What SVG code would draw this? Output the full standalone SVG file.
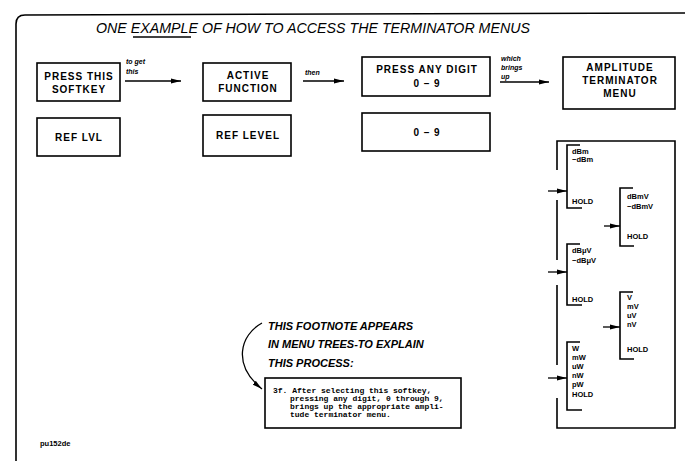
<svg xmlns="http://www.w3.org/2000/svg" width="685" height="461" viewBox="0 0 685 461">
<defs>
<marker id="ah" viewBox="0 0 10 6" refX="10" refY="3" markerWidth="10" markerHeight="6" markerUnits="userSpaceOnUse" orient="auto">
<path d="M0,0.5 L10,3 L0,5.5 Z" fill="#000"/>
</marker>
</defs>
<style>
.bx{fill:none;stroke:#000;stroke-width:1.6}
.ln{fill:none;stroke:#000;stroke-width:1.3}
.br{fill:none;stroke:#000;stroke-width:1.6}
.t{font-family:"Liberation Sans",Arial,sans-serif;font-weight:bold;font-size:10px;letter-spacing:1px;fill:#000}
.s{font-family:"Liberation Sans",Arial,sans-serif;font-weight:bold;font-size:7.5px;fill:#000}
.it{font-family:"Liberation Sans",Arial,sans-serif;font-style:italic;font-weight:bold;font-size:7px;fill:#000}
.ti{font-family:"Liberation Sans",Arial,sans-serif;font-style:italic;font-size:14px;fill:#000}
.fn{font-family:"Liberation Sans",Arial,sans-serif;font-style:italic;font-weight:bold;font-size:11px;fill:#000}
.m{font-family:"Liberation Mono","Courier New",monospace;font-weight:bold;font-size:8px;fill:#000}
</style>
<rect width="685" height="461" fill="#fff"/>
<g id="frame">
<path class="bx" d="M16,461 L16,24 Q16,15 25,15 L685,13"/>
<text class="ti" x="96" y="33" textLength="434" lengthAdjust="spacingAndGlyphs">ONE EXAMPLE OF HOW TO ACCESS THE TERMINATOR MENUS</text>
<line class="ln" x1="133" y1="37" x2="191" y2="37"/>
</g>
<g id="softkey">
<rect class="bx" x="37" y="63" width="83" height="38"/>
<text class="t" x="79" y="80" text-anchor="middle">PRESS THIS</text>
<text class="t" x="79" y="93" text-anchor="middle">SOFTKEY</text>
</g>
<g id="active">
<rect class="bx" x="203" y="63" width="88" height="38"/>
<text class="t" x="248" y="79" text-anchor="middle">ACTIVE</text>
<text class="t" x="248" y="92" text-anchor="middle">FUNCTION</text>
</g>
<g id="digit">
<rect class="bx" x="362" y="57" width="128" height="39"/>
<text class="t" x="427" y="73" text-anchor="middle">PRESS ANY DIGIT</text>
<text class="t" x="427" y="87" text-anchor="middle">0 – 9</text>
</g>
<g id="amplitude">
<rect class="bx" x="563" y="57" width="112" height="52"/>
<text class="t" x="620" y="71" text-anchor="middle">AMPLITUDE</text>
<text class="t" x="620" y="84" text-anchor="middle">TERMINATOR</text>
<text class="t" x="620" y="97" text-anchor="middle">MENU</text>
</g>
<g id="reflvl">
<rect class="bx" x="37" y="118" width="83" height="38"/>
<text class="t" x="79" y="141" text-anchor="middle">REF LVL</text>
</g>
<g id="reflevel">
<rect class="bx" x="203" y="115" width="88" height="41"/>
<text class="t" x="248" y="139" text-anchor="middle">REF LEVEL</text>
</g>
<g id="digits09">
<rect class="bx" x="362" y="113" width="128" height="38"/>
<text class="t" x="427" y="136" text-anchor="middle">0 – 9</text>
</g>
<g id="menu">
<path class="bx" d="M557,170 L557,141 L675,141 L675,428 L557,428 L557,398"/>
<line class="br" x1="557" y1="200" x2="557" y2="260"/>
<line class="br" x1="557" y1="285" x2="557" y2="365"/>
<path class="br" d="M580,145 L567,145 L567,208 L582,208"/>
<text class="s" x="572" y="154">dBm</text>
<text class="s" x="572" y="162">−dBm</text>
<text class="s" x="572" y="204">HOLD</text>
<path class="br" d="M633,188 L620,188 L620,246 L634,246"/>
<text class="s" x="627" y="199">dBmV</text>
<text class="s" x="627" y="209">−dBmV</text>
<text class="s" x="627" y="239">HOLD</text>
<path class="br" d="M580,244 L567,244 L567,305 L582,305"/>
<text class="s" x="572" y="253">dBμV</text>
<text class="s" x="572" y="263">−dBμV</text>
<text class="s" x="572" y="302">HOLD</text>
<path class="br" d="M633,292 L620,292 L620,359 L634,359"/>
<text class="s" x="627" y="300">V</text>
<text class="s" x="627" y="309">mV</text>
<text class="s" x="627" y="318">uV</text>
<text class="s" x="627" y="327">nV</text>
<text class="s" x="627" y="352">HOLD</text>
<path class="br" d="M580,342 L567,342 L567,410 L582,410"/>
<text class="s" x="572" y="351">W</text>
<text class="s" x="572" y="360">mW</text>
<text class="s" x="572" y="369">uW</text>
<text class="s" x="572" y="378">nW</text>
<text class="s" x="572" y="387">pW</text>
<text class="s" x="572" y="397">HOLD</text>
</g>
<g id="footnote">
<text class="fn" x="268" y="330">THIS FOOTNOTE APPEARS</text>
<text class="fn" x="268" y="348">IN MENU TREES-TO EXPLAIN</text>
<text class="fn" x="268" y="367">THIS PROCESS:</text>
<rect class="bx" x="265" y="378" width="196" height="50"/>
<text class="m" x="273" y="393">3f. After selecting this softkey,</text>
<text class="m" x="290" y="401">pressing any digit, 0 through 9,</text>
<text class="m" x="290" y="409">brings up the appropriate ampli-</text>
<text class="m" x="290" y="417">tude terminator menu.</text>
</g>
<g id="label">
<text class="s" x="40" y="446">pu152de</text>
</g>
<g id="connectors">
<line class="ln" x1="125" y1="81" x2="181" y2="81" marker-end="url(#ah)"/>
<text class="it" x="126" y="64">to get</text>
<text class="it" x="126" y="74">this</text>
<line class="ln" x1="303" y1="81" x2="344" y2="81" marker-end="url(#ah)"/>
<text class="it" x="305" y="75">then</text>
<line class="ln" x1="500" y1="82" x2="549" y2="82" marker-end="url(#ah)"/>
<text class="it" x="501" y="61">which</text>
<text class="it" x="501" y="70">brings</text>
<text class="it" x="501" y="79">up</text>
<line class="ln" x1="548" y1="191" x2="567" y2="191" marker-end="url(#ah)"/>
<line class="ln" x1="604" y1="226" x2="620" y2="226" marker-end="url(#ah)"/>
<line class="ln" x1="548" y1="272" x2="567" y2="272" marker-end="url(#ah)"/>
<line class="ln" x1="603" y1="327" x2="620" y2="327" marker-end="url(#ah)"/>
<line class="ln" x1="548" y1="378" x2="567" y2="378" marker-end="url(#ah)"/>
<path class="ln" d="M262,323 C240,335 232,365 262,389" marker-end="url(#ah)"/>
</g>
</svg>
